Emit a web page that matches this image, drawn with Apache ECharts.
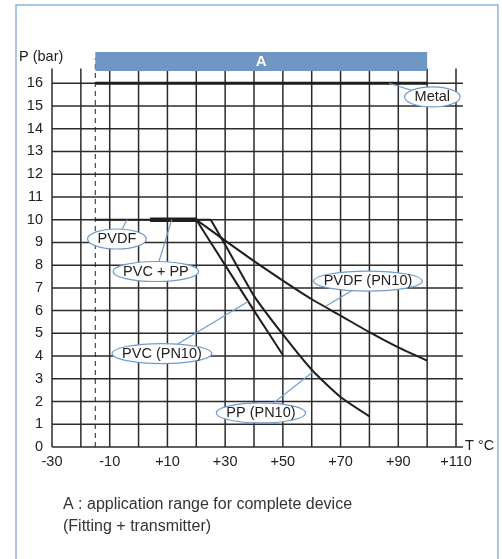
<!DOCTYPE html>
<html><head><meta charset="utf-8">
<script src="https://cdn.jsdelivr.net/npm/echarts@6/dist/echarts.min.js"></script>
<style>html,body{margin:0;padding:0;background:#fff}#c{width:502px;height:559px}</style>
</head><body><div id="c"></div>
<script>
// ---- data ----
const xTicks = [-30,-20,-10,0,10,20,30,40,50,60,70,80,90,100,110];
const yTicks = [0,1,2,3,4,5,6,7,8,9,10,11,12,13,14,15,16];
const metal = [[-15,16],[100,16]];
const pvdf = [[-15,10],[25,10]];
const pvcPp = [[4,10],[20,10]];
const pvcPn10 = [[20,10],[30,8.0],[40,6.0],[50,4.05]];
const ppPn10 = [[25,10],[30,8.9],[40,6.65],[50,4.95],[60,3.4],[70,2.2],[80,1.35]];
const pvdfPn10 = [[20,10],[30,9.08],[40,8.18],[50,7.32],[60,6.5],[70,5.78],[80,5.05],[90,4.38],[100,3.8]];
const rangeA = [[-15,100]];               // application range (°C)
const dashX = [-15];
const annLabels = ['Metal','PVDF','PVC + PP','PVC (PN10)','PVDF (PN10)','PP (PN10)'];
const annCenter = [[101.8,15.4],[-7.5,9.15],[6.0,7.72],[8.1,4.11],[79.5,7.3],[42.4,1.5]];
const annAnchor = [[86.8,16],[-4,10],[11.5,10],[38,6.4],[65,6.2],[60.4,3.3]];

// ---- styles ----
const FONT = "'Liberation Sans', Arial, sans-serif";
const FS = 14.5;
const TXT = '#222';
const GRID = '#2b2b2b';
const BLUE = '#6e9ccf';
const BAND = '#7097c3';
const yTop = 16.65, xRight = 112.4, bandLo = 16.54, bandHi = 17.38, dashTop = 17.1;
const mctx = document.createElement('canvas').getContext('2d');
mctx.font = FS + 'px ' + FONT;

const chart = echarts.init(document.getElementById('c'), null, {renderer:'canvas'});

function lineSeries(data, w, name){
  return {type:'line', name, data, symbol:'none', clip:false, z:5,
    lineStyle:{color:'#1e1e1e', width:w}, smooth: 0.2, animation:false};
}

chart.setOption({
  animation:false,
  grid:{left:52, right:46, top:83.3, bottom:112, containLabel:false, outerBoundsMode:'none'},
  xAxis:{type:'value', min:-30, max:110, interval:10,
    splitLine:{show:false}, axisLine:{show:false}, axisTick:{show:false},
    axisLabel:{margin:7, fontFamily:FONT, fontSize:FS, color:TXT,
      formatter: v => ((v+30)%20===0 ? (v>0?'+'+v:String(v)) : '')}},
  yAxis:{type:'value', min:0, max:16, interval:1,
    splitLine:{show:false}, axisLine:{show:false}, axisTick:{show:false},
    axisLabel:{margin:9, fontFamily:FONT, fontSize:FS, color:TXT, padding:[0,0,8,0]}},
  graphic:[
    {type:'rect', shape:{x:16, y:5, width:482, height:620}, style:{fill:'none', stroke:'#8fb1da', lineWidth:1.5}, z:0},
    {type:'text', left:19, top:49, style:{text:'P (bar)', font:FS+'px '+FONT, fill:TXT}},
    {type:'text', left:465, top:438, style:{text:'T °C', font:FS+'px '+FONT, fill:TXT}},
    {type:'text', left:63, top:494, style:{text:'A : application range for complete device\n(Fitting + transmitter)', font:"16px 'Liberation Sans', Arial, sans-serif", fill:'#333', lineHeight:22}}
  ],
  series:[
    {type:'custom', name:'vgrid', clip:false, z:1, data:xTicks.map(x=>[x,0]),
      renderItem:(p,api)=>{const a=api.coord([api.value(0),0]), b=api.coord([api.value(0),yTop]);
        return {type:'line', shape:{x1:a[0],y1:a[1],x2:b[0],y2:b[1]}, style:{stroke:GRID, lineWidth:1.5}};}},
    {type:'custom', name:'hgrid', clip:false, z:1, data:yTicks.map(y=>[-30,y]),
      renderItem:(p,api)=>{const a=api.coord([-30,api.value(1)]), b=api.coord([xRight,api.value(1)]);
        return {type:'line', shape:{x1:a[0],y1:a[1],x2:b[0],y2:b[1]}, style:{stroke:GRID, lineWidth:1.5}};}},
    {type:'custom', name:'dash', clip:false, z:2, data:dashX.map(x=>[x,0]),
      renderItem:(p,api)=>{const a=api.coord([api.value(0),0]), b=api.coord([api.value(0),dashTop]);
        return {type:'line', shape:{x1:a[0],y1:a[1],x2:b[0],y2:b[1]}, style:{stroke:'#222', lineWidth:1, lineDash:[5,4]}};}},
    {type:'custom', name:'A', clip:false, z:3, data:rangeA,
      renderItem:(p,api)=>{const a=api.coord([api.value(0),bandHi]), b=api.coord([api.value(1),bandLo]);
        return {type:'group', children:[
          {type:'rect', shape:{x:a[0],y:a[1],width:b[0]-a[0],height:b[1]-a[1]}, style:{fill:BAND}},
          {type:'text', style:{text:'A', x:(a[0]+b[0])/2, y:(a[1]+b[1])/2, align:'center', verticalAlign:'middle', font:'bold 15px '+FONT, fill:'#fff'}}
        ]};}},
    lineSeries(metal, 3, 'Metal'),
    lineSeries(pvdf, 2, 'PVDF'),
    lineSeries(pvcPp, 4.5, 'PVC + PP'),
    lineSeries(pvcPn10, 2, 'PVC (PN10)'),
    lineSeries(ppPn10, 2, 'PP (PN10)'),
    lineSeries(pvdfPn10, 2, 'PVDF (PN10)'),
    {type:'custom', name:'ann', clip:false, z:10,
      data: annCenter.map((c,i)=>[c[0],c[1],annAnchor[i][0],annAnchor[i][1]]),
      renderItem:(p,api)=>{
        const c=api.coord([api.value(0),api.value(1)]), a=api.coord([api.value(2),api.value(3)]);
        const label=annLabels[p.dataIndex];
        const tw=mctx.measureText(label).width;
        const rx=(tw+20)/2, ry=10;
        return {type:'group', children:[
          {type:'line', shape:{x1:a[0],y1:a[1],x2:c[0],y2:c[1]}, style:{stroke:BLUE, lineWidth:1.2}},
          {type:'ellipse', shape:{cx:c[0],cy:c[1],rx,ry}, style:{fill:'#fff', stroke:BLUE, lineWidth:1.2}},
          {type:'text', style:{text:label, x:c[0], y:c[1], align:'center', verticalAlign:'middle', font:FS+'px '+FONT, fill:TXT}}
        ]};
      }}
  ]
});
</script></body></html>
